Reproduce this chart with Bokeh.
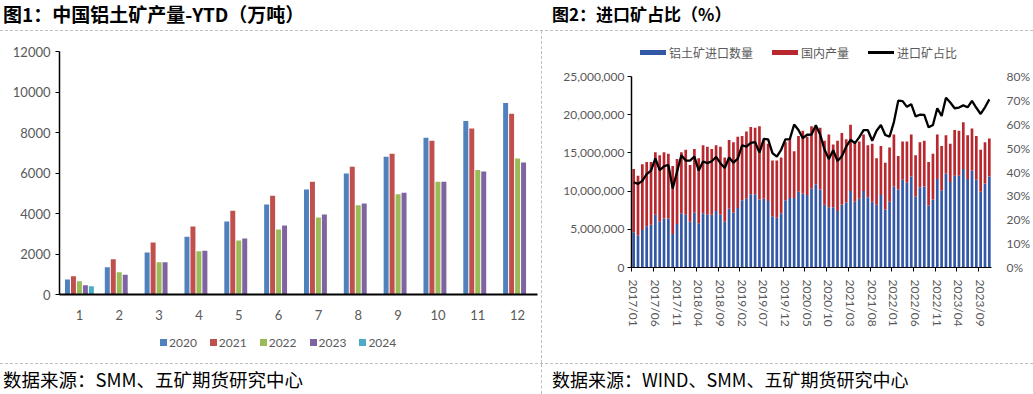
import numpy as np
import pandas as pd
from bokeh.plotting import figure
from bokeh.models import (ColumnDataSource, FactorRange, Range1d, LinearAxis, FixedTicker,
                          NumeralTickFormatter, Div)
from bokeh.layouts import row, column
from bokeh.transform import dodge
from bokeh.embed import file_html
from bokeh.resources import INLINE

# ---------------- data: chart 1 (YTD bauxite output, 万吨) ----------------
months = [str(i) for i in range(1, 13)]
years = ["2020", "2021", "2022", "2023", "2024"]
ytd_2020 = [740, 1340, 2070, 2850, 3610, 4440, 5180, 5970, 6800, 7740, 8570, 9460]
ytd_2021 = [900, 1740, 2570, 3360, 4130, 4880, 5570, 6310, 6950, 7590, 8200, 8920]
ytd_2022 = [660, 1100, 1590, 2130, 2670, 3210, 3800, 4410, 4950, 5570, 6150, 6720]
ytd_2023 = [460, 980, 1590, 2160, 2770, 3410, 3950, 4490, 5030, 5570, 6070, 6520]
ytd_2024 = [410, None, None, None, None, None, None, None, None, None, None, None]
year_colors = ["#4F81BD", "#C0504D", "#9BBB59", "#8064A2", "#4BACC6"]

# ---------------- data: chart 2 (monthly, million tonnes) ----------------
series2 = ["铝土矿进口数量", "国内产量", "进口矿占比"]
series2_colors = ["#3358A6", "#B8282E", "#000000"]
import_mt = [4.6, 4.2, 4.9, 5.4, 5.6, 6.9, 6.0, 6.4, 6.4, 4.4, 5.7, 7.1,
             6.9, 6.0, 7.2, 5.8, 7.1, 6.9, 6.9, 7.4, 6.9, 6.0, 7.7, 7.2,
             7.8, 8.8, 9.0, 9.6, 9.6, 8.9, 9.0, 8.7, 6.7, 6.5, 7.1, 8.8,
             9.1, 9.1, 9.9, 9.7, 9.5, 10.3, 10.9, 10.2, 8.2, 7.9, 7.9, 7.4,
             8.2, 8.5, 10.0, 8.6, 9.0, 10.0, 9.2, 8.6, 8.2, 9.5, 7.6, 8.6,
             10.6, 10.2, 11.5, 11.1, 11.9, 9.3, 10.5, 10.6, 8.1, 8.9, 11.6, 10.1,
             12.3, 11.2, 12.0, 12.0, 12.9, 11.6, 12.7, 11.5, 9.9, 11.0, 11.9]
domestic_mt = [8.3, 7.8, 8.6, 8.4, 8.2, 8.2, 8.7, 8.7, 8.5, 8.9, 8.5, 8.0,
               8.5, 7.4, 8.3, 8.5, 8.9, 8.9, 8.6, 8.6, 8.9, 8.4, 9.0, 9.2,
               9.3, 8.4, 8.8, 8.8, 8.7, 9.6, 7.7, 7.5, 7.3, 7.5, 7.3, 7.6,
               7.8, 6.1, 7.3, 8.2, 7.6, 8.2, 7.4, 8.1, 8.4, 9.5, 8.2, 9.2,
               9.4, 8.3, 8.7, 7.9, 7.5, 7.4, 6.8, 7.6, 6.1, 6.4, 6.1, 7.1,
               6.8, 4.4, 5.0, 5.4, 5.5, 5.4, 5.9, 6.0, 5.7, 6.0, 5.8, 5.8,
               5.0, 5.0, 6.0, 5.9, 6.1, 5.7, 5.5, 5.7, 5.5, 5.4, 5.0]
import_share_pct = [35.7, 35.0, 36.3, 39.1, 40.6, 45.7, 40.8, 42.4, 43.0, 33.1, 40.1, 47.0,
                    44.8, 44.8, 46.5, 40.6, 44.4, 43.7, 44.5, 46.3, 43.7, 41.7, 46.1, 43.9,
                    45.6, 51.2, 50.6, 52.2, 52.5, 48.1, 53.9, 53.7, 47.9, 46.4, 49.3, 53.7,
                    53.8, 59.9, 57.6, 54.2, 55.6, 55.7, 59.6, 55.7, 49.4, 45.4, 49.1, 44.6,
                    46.6, 50.6, 53.5, 52.1, 54.5, 57.5, 57.5, 53.1, 57.3, 59.7, 55.5, 54.8,
                    60.9, 69.9, 69.7, 67.3, 68.4, 63.3, 64.0, 63.9, 58.7, 59.7, 66.7, 63.5,
                    71.1, 69.1, 66.7, 67.0, 67.9, 67.1, 69.8, 66.9, 64.3, 67.1, 70.4]
month_labels = list(pd.date_range("2017-01-01", periods=len(import_mt), freq="MS").strftime("%Y/%m"))

GRAY = "#595959"
NUM_FONT = "Lato"
CJK = "Noto Sans CJK SC"

# ---------------- figure 1 ----------------
src1 = ColumnDataSource(dict(
    month=months,
    y2020=ytd_2020, y2021=ytd_2021, y2022=ytd_2022, y2023=ytd_2023,
    y2024=[np.nan if v is None else v for v in ytd_2024]))

p1 = figure(width=541, height=302, x_range=FactorRange(factors=months, range_padding=0),
            y_range=Range1d(0, 12000), output_backend="svg", toolbar_location=None,
            min_border_left=59, min_border_right=4, min_border_top=20, min_border_bottom=39)
offsets = [-0.30, -0.15, 0.0, 0.15, 0.30]
for yr, off, col in zip(years, offsets, year_colors):
    p1.vbar(x=dodge("month", off, range=p1.x_range), top="y" + yr, width=0.125,
            source=src1, fill_color=col, line_color=None)

p1.xgrid.visible = False
p1.ygrid.visible = False
p1.outline_line_color = None
p1.yaxis.ticker = FixedTicker(ticks=list(range(0, 12001, 2000)))
p1.yaxis.formatter = NumeralTickFormatter(format="0")
p1.yaxis.axis_line_color = "black"
p1.yaxis.axis_line_width = 1.5
p1.yaxis.major_tick_out = 4
p1.yaxis.major_tick_in = 0
p1.yaxis.major_tick_line_color = "black"
p1.yaxis.minor_tick_line_color = None
p1.yaxis.major_label_standoff = 5
p1.xaxis.axis_line_color = "black"
p1.xaxis.axis_line_width = 2
p1.xaxis.major_tick_line_color = None
p1.xaxis.major_label_standoff = 9
for ax in (p1.xaxis[0], p1.yaxis[0]):
    ax.major_label_text_color = GRAY
    ax.major_label_text_font = NUM_FONT
    ax.major_label_text_font_size = "13px"

# legend of chart 1 (HTML, built from the series names and colours)
leg1_html = "".join(
    f'<span style="display:inline-block;width:7px;height:7px;background:{c};'
    f'margin-right:2px;vertical-align:middle"></span>'
    f'<span style="margin-right:13px;vertical-align:middle">{y}</span>'
    for y, c in zip(years, year_colors))
leg1 = Div(text=leg1_html, width=541, height=30, margin=0,
           styles={"font-family": NUM_FONT, "font-size": "12px", "color": GRAY,
                   "padding-left": "160px", "line-height": "18px", "padding-top": "0px",
                   "box-sizing": "border-box", "white-space": "nowrap"})

# ---------------- figure 2 ----------------
n = len(import_mt)
src2 = ColumnDataSource(dict(
    x=list(range(n)),
    imp=[v * 1e6 for v in import_mt],
    dom=[v * 1e6 for v in domestic_mt],
    share=[v / 100 for v in import_share_pct]))

p2 = figure(width=491, height=300, x_range=Range1d(-0.5, n - 0.5), y_range=Range1d(0, 25e6),
            output_backend="svg", toolbar_location=None,
            min_border_left=89, min_border_right=35, min_border_top=13, min_border_bottom=96)
p2.extra_y_ranges = {"pct": Range1d(0, 0.8)}
rs = p2.vbar_stack(["imp", "dom"], x="x", width=0.62, source=src2,
                   fill_color=series2_colors[:2], line_color=None)
rl = p2.line(x="x", y="share", source=src2, y_range_name="pct",
             line_color=series2_colors[2], line_width=2.3)

p2.xgrid.visible = False
p2.ygrid.visible = False
p2.outline_line_color = None

p2.yaxis.ticker = FixedTicker(ticks=[0, 5e6, 10e6, 15e6, 20e6, 25e6])
p2.yaxis.formatter = NumeralTickFormatter(format="0,0")
p2.yaxis.axis_line_color = "black"
p2.yaxis.axis_line_width = 1.5
p2.yaxis.major_tick_out = 4
p2.yaxis.major_tick_in = 0
p2.yaxis.minor_tick_line_color = None
p2.yaxis.major_label_standoff = 3

tick_idx = list(range(0, n, 5))
p2.xaxis.ticker = FixedTicker(ticks=tick_idx, minor_ticks=[i - 0.5 for i in tick_idx])
p2.xaxis.major_label_overrides = {i: month_labels[i] for i in tick_idx}
p2.xaxis.major_label_orientation = "vertical"
p2.xaxis.major_tick_line_color = None
p2.xaxis.minor_tick_out = 4
p2.xaxis.minor_tick_in = 0
p2.xaxis.minor_tick_line_color = "black"
p2.xaxis.axis_line_color = "black"
p2.xaxis.major_label_standoff = 6

ax_r = LinearAxis(y_range_name="pct", ticker=FixedTicker(ticks=[i / 10 for i in range(9)]),
                  formatter=NumeralTickFormatter(format="0%"))
ax_r.axis_line_color = None
ax_r.major_tick_line_color = None
ax_r.minor_tick_line_color = None
ax_r.major_label_standoff = 9
p2.add_layout(ax_r, "right")

for ax in (p2.xaxis[0], p2.yaxis[0], ax_r):
    ax.major_label_text_color = GRAY
    ax.major_label_text_font = NUM_FONT
    ax.major_label_text_font_size = "12px"

# legend of chart 2 (HTML, built from the series names and colours)
swatch_h = ["5px", "5px", "2.5px"]
leg2_html = "".join(
    f'<span style="display:inline-block;width:26px;height:{h};background:{c};'
    f'margin-right:3px;vertical-align:middle"></span>'
    f'<span style="margin-right:19px;vertical-align:middle">{s}</span>'
    for s, c, h in zip(series2, series2_colors, swatch_h))
leg2 = Div(text=leg2_html, width=491, height=32, margin=0,
           styles={"font-family": CJK, "font-size": "12px", "color": GRAY,
                   "padding-left": "98px", "padding-top": "10px", "line-height": "20px",
                   "box-sizing": "border-box", "white-space": "nowrap"})

# ---------------- titles, sources, dividers ----------------
DASH = "1px dashed #BFBFBF"
tstyle = {"font-family": CJK, "font-weight": "bold", "line-height": "28px",
          "box-sizing": "border-box", "color": "#000000", "white-space": "nowrap"}
sstyle = {"font-family": CJK, "line-height": "30px",
          "box-sizing": "border-box", "color": "#000000", "white-space": "nowrap"}

t1 = Div(text="图1：中国铝土矿产量-YTD（万吨）", width=542, height=30, margin=0,
         styles=dict(tstyle, **{"padding-left": "3px", "font-size": "19px"}))
t2 = Div(text="图2：进口矿占比（%）", width=491, height=30, margin=0,
         styles=dict(tstyle, **{"padding-left": "10px", "font-size": "17px"}))
hl1 = Div(text="", width=1033, height=1, margin=0, styles={"border-top": DASH, "box-sizing": "border-box"})
hl2 = Div(text="", width=1033, height=1, margin=0, styles={"border-top": DASH, "box-sizing": "border-box"})
vl1 = Div(text="", width=1, height=332, margin=0, styles={"border-left": DASH, "box-sizing": "border-box"})
vl2 = Div(text="", width=1, height=30, margin=0, styles={"border-left": DASH, "box-sizing": "border-box"})
s1 = Div(text="数据来源：SMM、五矿期货研究中心", width=541, height=30, margin=0,
         styles=dict(sstyle, **{"padding-left": "3px", "font-size": "18.5px"}))
s2 = Div(text="数据来源：WIND、SMM、五矿期货研究中心", width=491, height=30, margin=0,
         styles=dict(sstyle, **{"padding-left": "10px", "font-size": "18px"}))

layout = column(row(t1, t2, spacing=0), hl1,
                row(column(p1, leg1, spacing=0), vl1, column(leg2, p2, spacing=0), spacing=0),
                hl2, row(s1, vl2, s2, spacing=0), spacing=0)

open("out.html", "w").write(file_html(layout, INLINE))
